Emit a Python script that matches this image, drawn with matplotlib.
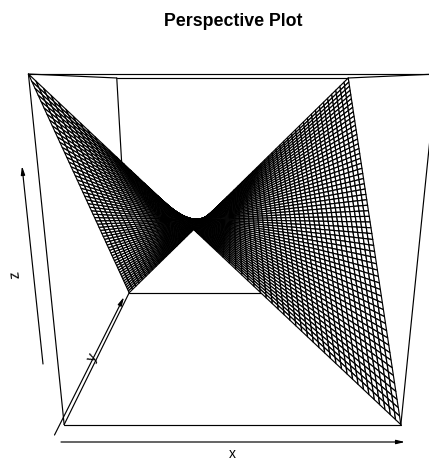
import numpy as np
import matplotlib
matplotlib.use('Agg')
import matplotlib.pyplot as plt
from matplotlib.collections import PolyCollection

plt.rcParams['font.family'] = ['Liberation Sans', 'DejaVu Sans']

# grid of the surface, z = x * y over the unit box
x_grid = np.linspace(-1, 1, 60)
y_grid = np.linspace(-1, 1, 60)
z_grid = np.outer(x_grid, y_grid)

title = 'Perspective Plot'
x_label = 'x'
y_label = 'y'
z_label = 'z'

LW = 0.85


def project(x, y, z):
    # camera looks at the box from above and in front, result in pixels
    w = 0.00729 + 0.00187 * y - 0.00052 * z
    sx = 232.5 + x / w
    sy = (1.598 + 0.1556 * y - 1.0797 * z) / w
    return sx, sy


def box_edge(ax, a, b, zorder):
    sx, sy = project(np.array([a[0], b[0]]), np.array([a[1], b[1]]), np.array([a[2], b[2]]))
    ax.plot(sx, sy, color='black', lw=LW, zorder=zorder, solid_capstyle='round')


fig = plt.figure(figsize=(4.29, 4.61), dpi=100)
ax = fig.add_axes([0, 0, 1, 1])
ax.set_xlim(0, 429)
ax.set_ylim(461, 0)
ax.axis('off')

# edges hidden behind the surface
back_edges = [((-1, 1, -1), (1, 1, -1)), ((-1, 1, -1), (-1, 1, 1)), ((1, 1, -1), (1, 1, 1)),
              ((-1, -1, -1), (-1, 1, -1)), ((1, -1, -1), (1, 1, -1))]
for a, b in back_edges:
    box_edge(ax, a, b, 1)

# facets painted from the back to the front
polys = []
for j in range(len(y_grid) - 2, -1, -1):
    for i in range(len(x_grid) - 1):
        cx = np.array([x_grid[i], x_grid[i + 1], x_grid[i + 1], x_grid[i]])
        cy = np.array([y_grid[j], y_grid[j], y_grid[j + 1], y_grid[j + 1]])
        cz = np.array([z_grid[i, j], z_grid[i + 1, j], z_grid[i + 1, j + 1], z_grid[i, j + 1]])
        sx, sy = project(cx, cy, cz)
        polys.append(np.column_stack([sx, sy]))
ax.add_collection(PolyCollection(polys, facecolors='white', edgecolors='black', linewidths=LW, zorder=2))

front_edges = [((-1, -1, 1), (1, -1, 1)), ((-1, -1, -1), (-1, -1, 1)), ((1, -1, -1), (1, -1, 1)),
               ((-1, -1, -1), (1, -1, -1)), ((-1, 1, 1), (1, 1, 1)), ((-1, -1, 1), (-1, 1, 1)),
               ((1, -1, 1), (1, 1, 1))]
for a, b in front_edges:
    box_edge(ax, a, b, 3)

# axis arrows sit just outside the box
arrow = dict(arrowstyle='-|>,head_length=0.5,head_width=0.12', color='black', lw=LW, shrinkA=0, shrinkB=0)
ax.annotate('', xy=(405, 442), xytext=(61, 442), arrowprops=arrow)
ax.annotate('', xy=(124, 297), xytext=(54.5, 435), arrowprops=arrow)
ax.annotate('', xy=(22, 166), xytext=(43, 364), arrowprops=arrow)

ax.text(232, 458, x_label, fontsize=10, ha='center', va='baseline')
ax.text(92, 358, y_label, fontsize=10.5, ha='center', va='center', rotation=63)
ax.text(15.5, 275, z_label, fontsize=10.5, ha='center', va='center', rotation=96)
ax.text(233, 26, title, fontsize=12.8, fontweight='bold', ha='center', va='baseline')

fig.savefig('out.png', dpi=100)
